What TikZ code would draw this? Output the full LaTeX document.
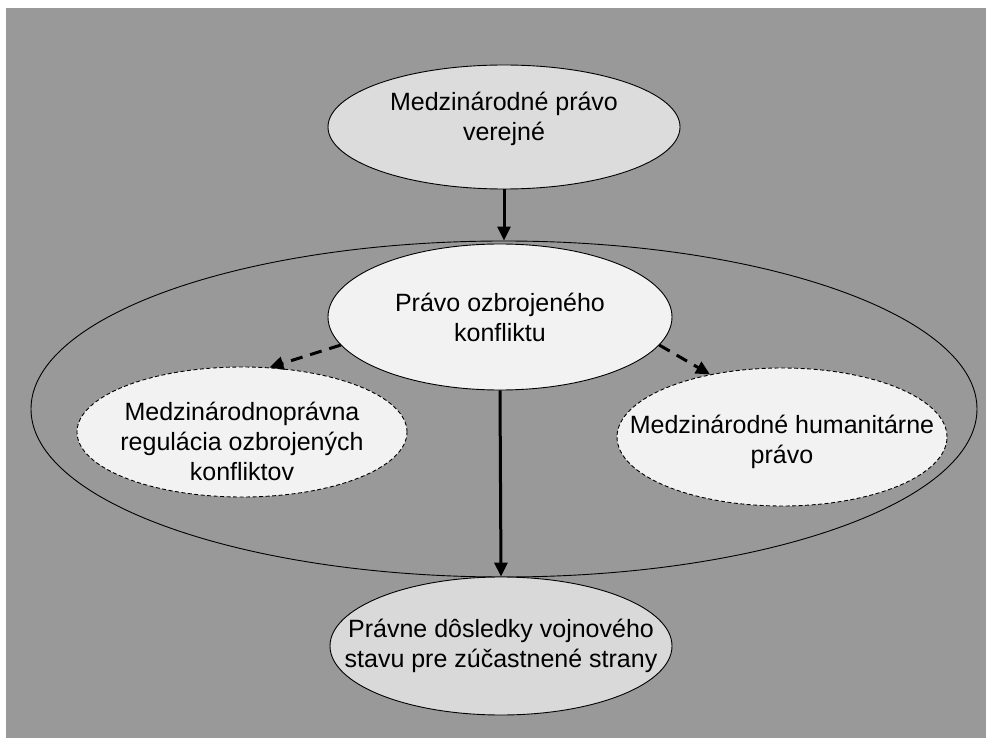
\documentclass[tikz,border=0pt]{standalone}
\usepackage{fontspec}
\setmainfont{Liberation Sans}
\usetikzlibrary{shapes.geometric,arrows.meta}
\definecolor{bggray}{HTML}{999999}
\definecolor{topfill}{HTML}{DCDCDC}
\definecolor{midfill}{HTML}{F2F2F2}
\definecolor{botfill}{HTML}{D9D9D9}
\tikzset{
  ell/.style={ellipse, draw=black, line width=0.9pt, inner sep=0pt},
  dashell/.style={ell, dash pattern=on 4pt off 2.5pt},
  txt/.style={align=center, inner sep=0pt, font=\fontsize{25}{30}\selectfont},
  solidarrow/.style={line width=3pt, -{Triangle[length=14pt,width=13pt]}},
  dasharrow/.style={line width=3pt, dash pattern=on 12pt off 8pt, -{Triangle[length=14pt,width=13pt]}},
}
\begin{document}
\begin{tikzpicture}[x=1pt,y=-1pt]
\useasboundingbox (0,0) rectangle (986,738);
\fill[white] (0,0) rectangle (986,738);
\fill[bggray] (6,8) rectangle (986,738);
\node[ell, minimum width=946pt, minimum height=336pt] (big) at (504,409) {};
\node[ell, fill=topfill, minimum width=352pt, minimum height=124pt] (top) at (504,127) {};
\node[txt] (toptext) at ([yshift=8pt]top.center) {Medzinárodné právo\\verejné};
\node[ell, fill=midfill, minimum width=344pt, minimum height=146pt] (mid) at (500,317) {};
\node[txt] (midtext) at (mid.center) {Právo ozbrojeného\\konfliktu};
\node[dashell, fill=midfill, minimum width=330pt, minimum height=130pt] (left) at (242,432) {};
\node[txt] (lefttext) at ([yshift=-9pt]left.center) {Medzinárodnoprávna\\regulácia ozbrojených\\konfliktov};
\node[dashell, fill=midfill, minimum width=330pt, minimum height=138pt] (right) at (782,437) {};
\node[txt] (righttext) at ([yshift=-5pt]right.center) {Medzinárodné humanitárne\\právo};
\node[ell, fill=botfill, minimum width=342pt, minimum height=138pt] (bot) at (501,646) {};
\node[txt] (bottext) at (bot.center) {Právne dôsledky vojnového\\stavu pre zúčastnené strany};
\draw[solidarrow] (top.south) -- (big.north);
\draw[solidarrow] (mid.south) -- (bot.north);
\draw[dasharrow] (mid.190) -- (left.67);
\draw[dasharrow] (mid.-10) -- (right.139);
\end{tikzpicture}
\end{document}
